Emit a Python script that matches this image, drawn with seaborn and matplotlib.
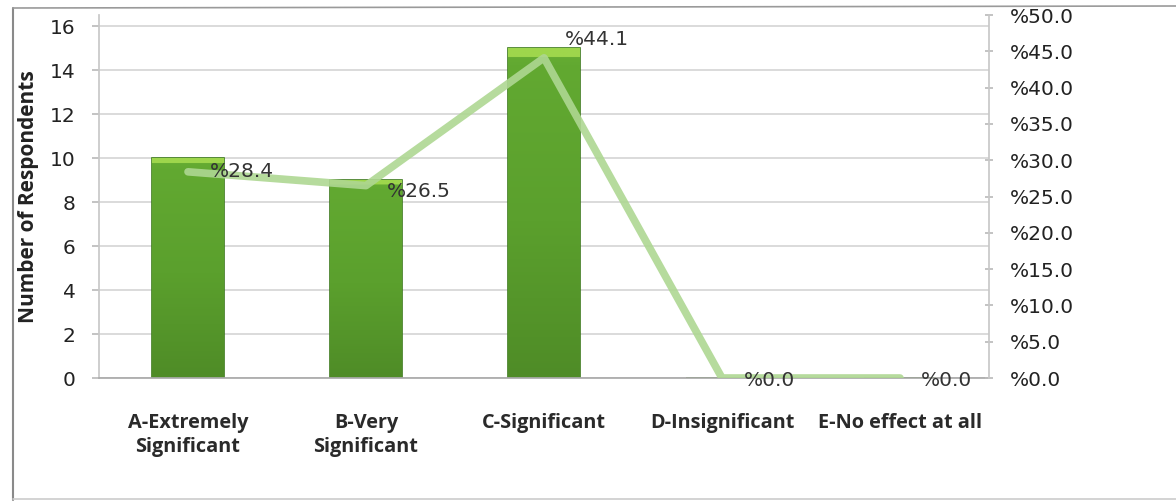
import matplotlib
matplotlib.use("Agg")
import matplotlib.pyplot as plt
import seaborn as sns
import numpy as np
import pandas as pd
from matplotlib.lines import Line2D
from matplotlib.colors import LinearSegmentedColormap

categories = ["A-Extremely\nSignificant", "B-Very\nSignificant", "C-Significant",
              "D-Insignificant", "E-No effect at all"]
respondents = [10, 9, 15, 0, 0]
percent = [28.4, 26.5, 44.1, 0.0, 0.0]
pct_labels = ["%28.4", "%26.5", "%44.1", "%0.0", "%0.0"]
left_ticks = [0, 2, 4, 6, 8, 10, 12, 14, 16]
right_ticks = [0, 5, 10, 15, 20, 25, 30, 35, 40, 45, 50]
right_ticklabels = ["%" + f"{v:.1f}" for v in right_ticks]

sns.set_theme(style="white")
plt.rcParams['font.family'] = ['DejaVu Sans']

df = pd.DataFrame({"cat": categories, "n": respondents, "pct": percent})

fig = plt.figure(figsize=(11.76, 5.03), dpi=100)
ax = fig.add_axes([99/1176, 1-378/503, (989-99)/1176, (378-15)/503])

sns.barplot(data=df, x="cat", y="n", ax=ax, color="#5ea22e", width=0.4,
            edgecolor="#3d7a1c", linewidth=1.2, saturation=1)

# subtle gradient shading on the bars, clipped to each bar patch
cmap = LinearSegmentedColormap.from_list("g", ["#4f8c27", "#5ba02d", "#62a931", "#9ed64c"])
grad = np.linspace(0, 1, 256).reshape(-1, 1)
grad = np.where(grad > 0.975, 1.0, grad * 0.7)
for p in list(ax.patches):
    x0, y0 = p.get_x(), p.get_y()
    w, h = p.get_width(), p.get_height()
    if h <= 0:
        continue
    im = ax.imshow(grad, extent=[x0, x0 + w, y0, y0 + h], origin="lower",
                   aspect="auto", cmap=cmap, vmin=0, vmax=1, zorder=p.get_zorder())
    im.set_clip_path(p)

ax.set_ylim(0, 16*363/352)
ax.set_xlim(-0.5, len(categories) - 0.5)
ax.set_yticks(left_ticks)
ax.set_yticklabels([str(v) for v in left_ticks], fontsize=14.5, color="#222222")
ax.yaxis.grid(True, color="#d4d4d4", linewidth=1.2)
ax.set_axisbelow(True)
ax.tick_params(axis="y", length=5, color="#bbbbbb", direction="out", pad=12, left=True)
ax.tick_params(axis="x", length=0, pad=25)
for lbl in ax.get_xticklabels():
    lbl.set_fontfamily(["Open Sans", "DejaVu Sans"])
    lbl.set_fontweight("bold")
    lbl.set_fontsize(14.3)
    lbl.set_color("#2a2a2a")
    lbl.set_linespacing(1.3)
ax.set_xlabel("")
ax.set_ylabel("Number of Respondents", fontsize=15, fontweight="bold",
              family=["Open Sans", "DejaVu Sans"], color="#222222", labelpad=8)
for s in ["top", "right"]:
    ax.spines[s].set_visible(False)
ax.spines["left"].set_color("#c8c8c8")
ax.spines["bottom"].set_color("#aaaaaa")

ax2 = ax.twinx()
sns.lineplot(x=np.arange(len(categories)), y=percent, ax=ax2, color="#aed792",
             linewidth=5.5, alpha=0.9)
ax2.set_ylim(0, 50)
ax2.set_yticks(right_ticks)
ax2.set_yticklabels(right_ticklabels, fontsize=14.5, color="#222222")
ax2.tick_params(axis="y", length=6, color="#bbbbbb", direction="inout", pad=12, right=True)
for s in ["top", "left", "bottom"]:
    ax2.spines[s].set_visible(False)
ax2.spines["right"].set_color("#c8c8c8")
ax2.set_ylabel("")

label_dx = [16, 15, 15, 16, 15]
label_dy = [0, -4, 13, -2, -2]
for i, (v, t) in enumerate(zip(percent, pct_labels)):
    ax2.annotate(t, (i, v), xytext=(label_dx[i], label_dy[i]), textcoords="offset points",
                 ha="left", va="center", fontsize=14.5, color="#333333")

fig.add_artist(Line2D([13/1176, 13/1176], [1-500/503, 1-8/503], transform=fig.transFigure,
                      color="#8a8a8a", linewidth=1.5))
fig.add_artist(Line2D([13/1176, 1.0], [1-8/503, 1-6/503], transform=fig.transFigure,
                      color="#9a9a9a", linewidth=1.2))
fig.add_artist(Line2D([13/1176, 1.0], [1-499/503, 1-499/503], transform=fig.transFigure,
                      color="#cccccc", linewidth=1.2))

fig.savefig("out.png", dpi=100, facecolor="white")
